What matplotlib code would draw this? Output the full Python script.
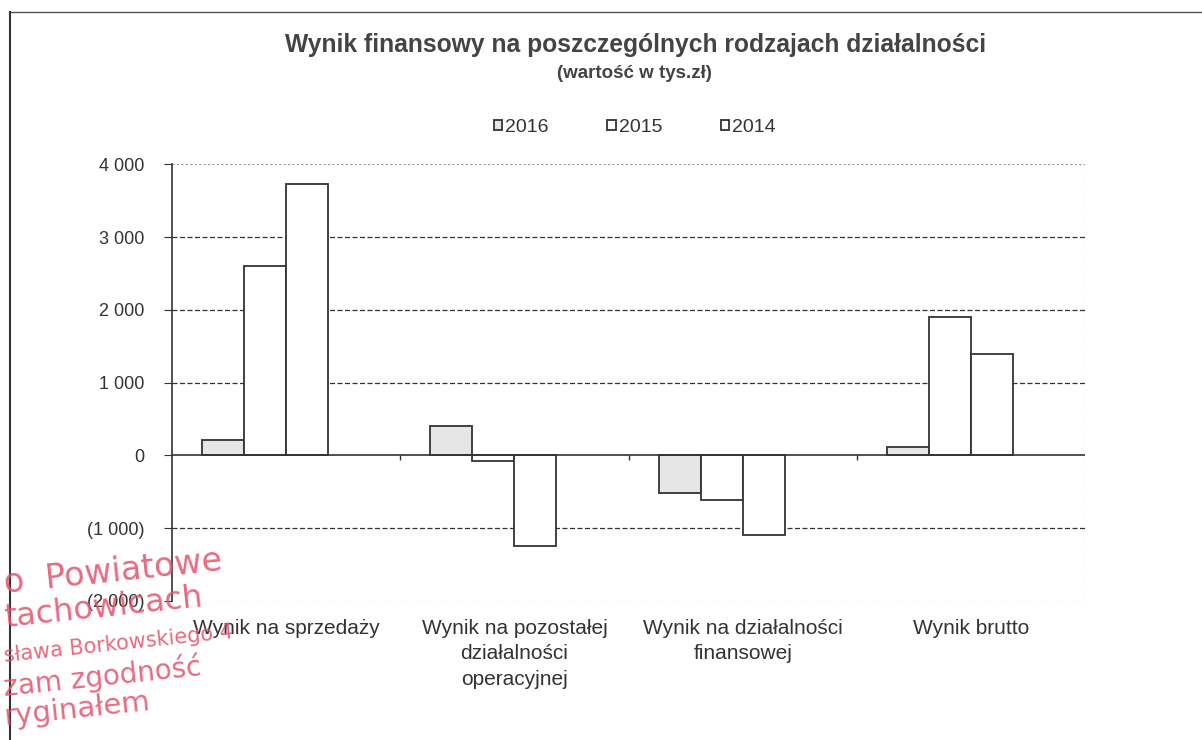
import matplotlib.pyplot as plt
from matplotlib.lines import Line2D
from matplotlib.ticker import FuncFormatter
import numpy as np

plt.rcParams['font.family'] = ['Liberation Sans', 'DejaVu Sans']

categories = ["Wynik na sprzedaży", "Wynik na pozostałej\ndziałalności\noperacyjnej",
              "Wynik na działalności\nfinansowej", "Wynik brutto"]
years = ["2016", "2015", "2014"]
v2016 = [210, 410, -520, 110]
v2015 = [2600, -80, -620, 1900]
v2014 = [3730, -1250, -1100, 1390]
series = [v2016, v2015, v2014]
fills = ["#e6e6e6", "white", "white"]


def fmt(v, pos):
    s = f"{abs(int(v)):,}".replace(",", " ")
    return f"({s})" if v < 0 else s


fig = plt.figure(figsize=(12.02, 7.4), dpi=100)
ax = fig.add_axes([0.143, 0.188, 0.760, 0.590])

x = np.arange(len(categories))
w = 0.184
for i, (vals, col, yr) in enumerate(zip(series, fills, years)):
    ax.bar(x + (i - 1.5) * w, vals, width=w, color=col, edgecolor="#333333",
           linewidth=1.3, label=yr, zorder=3)

ax.set_ylim(-2000, 4000)
ax.set_xlim(-0.5, 3.5)
ax.set_yticks(range(-2000, 4001, 1000))
ax.yaxis.set_major_formatter(FuncFormatter(fmt))
ax.tick_params(axis="y", labelsize=13, length=6, pad=14, color="#333333",
               labelcolor="#333333")
ax.set_xticks(x)
ax.set_xticklabels(categories, fontsize=15, color="#333333", linespacing=1.42)
ax.tick_params(axis="x", length=0, pad=13)

for yv in [3000, 2000, 1000, -1000]:
    ax.axhline(yv, color="#333333", linestyle=(0, (4, 2)), linewidth=0.9, zorder=1)
ax.axhline(4000, color="#999999", linestyle=(0, (2, 2)), linewidth=0.8, zorder=1)
ax.axhline(0, color="#333333", linewidth=1.2, zorder=4)
ax.vlines([0.5, 1.5, 2.5], -70, 0, color="#333333", linewidth=1.0, zorder=4)

for s in ["top", "bottom", "right"]:
    ax.spines[s].set_visible(False)
ax.spines["left"].set_color("#333333")
ax.spines["left"].set_linewidth(1.2)
ax.axhline(-2000, color="#aaaaaa", linestyle=(0, (3, 2)), linewidth=0.8, zorder=1)
ax.axvline(3.5, color="#aaaaaa", linestyle=(0, (1, 1)), linewidth=0.8, zorder=1)

fig.text(0.529, 0.930, "Wynik finansowy na poszczególnych rodzajach działalności",
         ha="center", fontsize=17.7, fontweight="bold", color="#444444")
fig.text(0.528, 0.895, "(wartość w tys.zł)", ha="center", fontsize=13.5,
         fontweight="bold", color="#444444")

leg = fig.legend(loc="center", bbox_to_anchor=(0.528, 0.828), ncol=3, frameon=False,
                 fontsize=14, handlelength=0.45, handleheight=0.45, handletextpad=0.15,
                 columnspacing=3.0)
for t in leg.get_texts():
    t.set_color("#333333")

# page frame
fig.add_artist(Line2D([0.008, 1.0], [0.984, 0.984], transform=fig.transFigure,
                      color="#555555", linewidth=1.0))
fig.add_artist(Line2D([0.008, 0.008], [0.0, 0.984], transform=fig.transFigure,
                      color="#333333", linewidth=1.5))

# red stamp
stamp = ["o  Powiatowe", "tachowicach", "sława Borkowskiego 4", "zam zgodność", "ryginałem"]
stamp_pos = [(0.198, 24), (0.153, 23), (0.106, 15), (0.060, 20), (0.020, 21)]
for txt, (sy, fs) in zip(stamp, stamp_pos):
    fig.text(0.004, sy, txt, fontsize=fs, color="#e4506a", rotation=6, alpha=0.85,
             family=["DejaVu Sans"], ha="left", va="baseline", rotation_mode="anchor")

fig.savefig("out.png", dpi=100)
